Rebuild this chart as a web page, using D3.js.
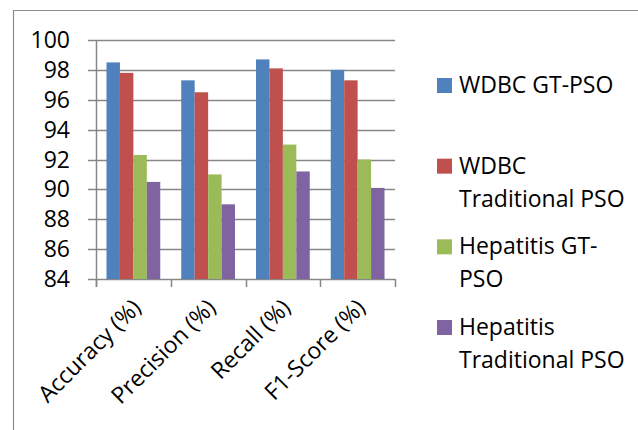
<!DOCTYPE html>
<html>
<head>
<meta charset="utf-8">
<script src="https://cdn.jsdelivr.net/npm/d3@7"></script>
<style>
  html, body { margin: 0; padding: 0; background: #fff; }
  svg { display: block; font-family: "Open Sans", "Noto Sans", sans-serif; }
</style>
</head>
<body>
<svg id="chart" width="638" height="430"></svg>
<script>
// Metric categories along the x axis
const categories = ["Accuracy (%)", "Precision (%)", "Recall (%)", "F1-Score (%)"];

// Series names (legend lines split where they wrap)
const seriesNames = ["WDBC GT-PSO", "WDBC Traditional PSO", "Hepatitis GT-PSO", "Hepatitis Traditional PSO"];
const legendLines = [["WDBC GT-PSO"], ["WDBC", "Traditional PSO"], ["Hepatitis GT-", "PSO"], ["Hepatitis", "Traditional PSO"]];

// Values per series, in category order
const wdbcGT = [98.5, 97.3, 98.7, 98.0];
const wdbcTrad = [97.8, 96.5, 98.1, 97.3];
const hepGT = [92.3, 91.0, 93.0, 92.0];
const hepTrad = [90.5, 89.0, 91.2, 90.1];
const seriesValues = [wdbcGT, wdbcTrad, hepGT, hepTrad];

// Y axis ticks
const yTicks = [84, 86, 88, 90, 92, 94, 96, 98, 100];

const colors = ["#4F81BD", "#C0504D", "#9BBB59", "#8064A2"];

const svg = d3.select("#chart");
const fontSize = 23;

// Frame of the chart area (open on the right and bottom)
svg.append("path")
  .attr("d", "M13.5,430 V10.5 H638")
  .attr("fill", "none")
  .attr("stroke", "#8c8c8c")
  .attr("stroke-width", 1.2);

const plot = { left: 96, right: 395, top: 40, bottom: 279 };

const x = d3.scaleBand()
  .domain(categories)
  .range([plot.left, plot.right])
  .paddingInner(0)
  .paddingOuter(0);

const x1 = d3.scaleBand()
  .domain(d3.range(seriesNames.length))
  .range([0, x.bandwidth()])
  .paddingOuter(0.78)
  .paddingInner(0);

const y = d3.scaleLinear()
  .domain([84, 100])
  .range([plot.bottom, plot.top]);

const gridColor = "#878787";

// Horizontal gridlines with tick marks extending left of the axis
svg.append("g")
  .selectAll("line")
  .data(yTicks)
  .join("line")
  .attr("x1", plot.left - 8)
  .attr("x2", plot.right)
  .attr("y1", d => Math.round(y(d)) + 0.5)
  .attr("y2", d => Math.round(y(d)) + 0.5)
  .attr("stroke", gridColor)
  .attr("stroke-width", 1.5);

// Bars
const groups = svg.append("g")
  .selectAll("g")
  .data(categories)
  .join("g")
  .attr("transform", d => `translate(${x(d)},0)`);

groups.selectAll("rect")
  .data((c, ci) => seriesValues.map((vals, si) => ({ si, v: vals[ci] })))
  .join("rect")
  .attr("x", d => x1(d.si))
  .attr("width", x1.bandwidth())
  .attr("y", d => y(d.v))
  .attr("height", d => y(84) - y(d.v))
  .attr("fill", d => colors[d.si]);

// Y axis line
svg.append("line")
  .attr("x1", plot.left + 0.5).attr("x2", plot.left + 0.5)
  .attr("y1", plot.top).attr("y2", plot.bottom + 8)
  .attr("stroke", gridColor)
  .attr("stroke-width", 1.5);

// Category boundary tick marks
const bounds = categories.map(c => x(c)).concat([plot.right]);
svg.append("g")
  .selectAll("line")
  .data(bounds)
  .join("line")
  .attr("x1", d => Math.round(d) + 0.5)
  .attr("x2", d => Math.round(d) + 0.5)
  .attr("y1", plot.bottom)
  .attr("y2", plot.bottom + 8)
  .attr("stroke", gridColor)
  .attr("stroke-width", 1.5);

// Y tick labels
svg.append("g")
  .selectAll("text")
  .data(yTicks)
  .join("text")
  .attr("x", 70)
  .attr("y", d => y(d) + 8)
  .attr("text-anchor", "end")
  .attr("font-size", fontSize)
  .attr("fill", "#000")
  .text(d => d);

// X category labels, rotated
svg.append("g")
  .selectAll("text")
  .data(categories)
  .join("text")
  .attr("transform", d => `translate(${x(d) + x.bandwidth() / 2 + 9},${plot.bottom + 30}) rotate(-45)`)
  .attr("text-anchor", "end")
  .attr("font-size", fontSize)
  .attr("fill", "#000")
  .text(d => d);

// Legend
const legend = svg.append("g");
const legendY = d3.scaleLinear().domain([0, 3]).range([93, 335]);

legendLines.forEach((lines, i) => {
  const base = legendY(i);
  legend.append("rect")
    .attr("x", 437)
    .attr("y", base - 15)
    .attr("width", 15)
    .attr("height", 15)
    .attr("fill", colors[i]);
  const t = legend.append("text")
    .attr("x", 459)
    .attr("y", base)
    .attr("font-size", fontSize)
    .attr("fill", "#000");
  lines.forEach((ln, k) => {
    t.append("tspan")
      .attr("x", 459)
      .attr("dy", k === 0 ? 0 : 33)
      .text(ln);
  });
});
</script>
</body>
</html>
